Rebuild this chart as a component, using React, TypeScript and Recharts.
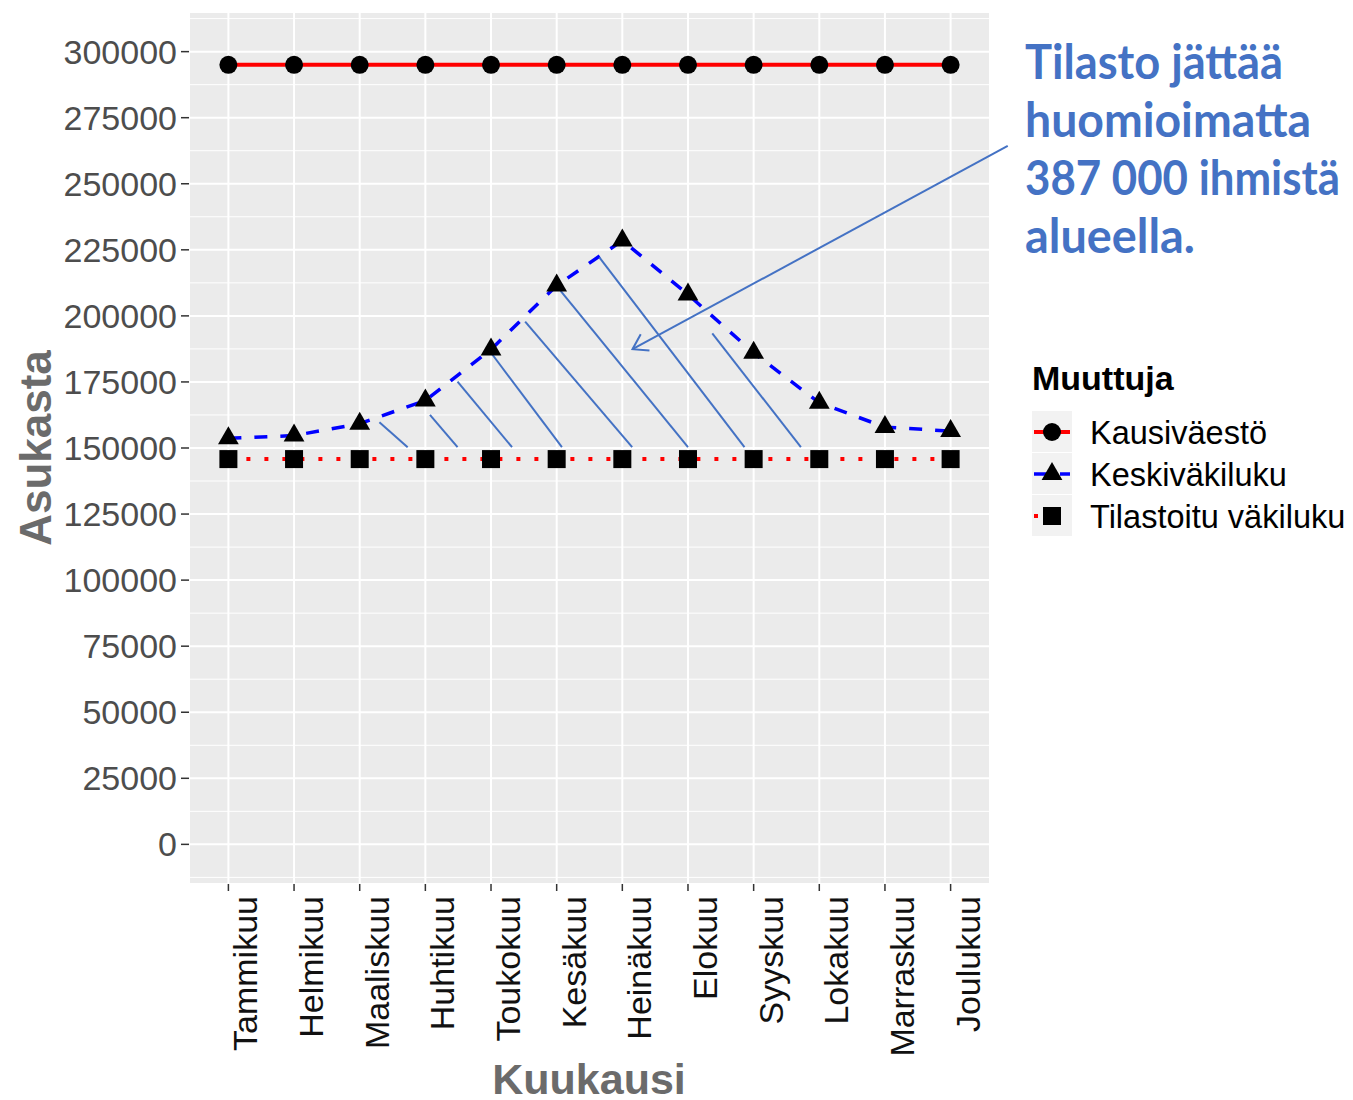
import { LineChart, Line, XAxis, YAxis, CartesianGrid, ReferenceLine, Legend } from 'recharts';

const months = ['Tammikuu', 'Helmikuu', 'Maaliskuu', 'Huhtikuu', 'Toukokuu', 'Kesäkuu', 'Heinäkuu', 'Elokuu', 'Syyskuu', 'Lokakuu', 'Marraskuu', 'Joulukuu'];
const kausivaesto = [295000, 295000, 295000, 295000, 295000, 295000, 295000, 295000, 295000, 295000, 295000, 295000];
const keskivakiluku = [153700, 154700, 159200, 168000, 187300, 211500, 228500, 208100, 186000, 167100, 157900, 156400];
const tilastoitu = [145800, 145800, 145800, 145800, 145800, 145800, 145800, 145800, 145800, 145800, 145800, 145800];

const yTicks = [0, 25000, 50000, 75000, 100000, 125000, 150000, 175000, 200000, 225000, 250000, 275000, 300000];
const yMinor = [-12500, 12500, 37500, 62500, 87500, 112500, 137500, 162500, 187500, 212500, 237500, 262500, 287500, 312500];
const xTicks = [0, 1, 2, 3, 4, 5, 6, 7, 8, 9, 10, 11];

// hand drawn hatching between the two lower series, in data units
const hatch = [
  [[2.30, 159700], [2.73, 150300]],
  [[3.07, 162500], [3.49, 150300]],
  [[3.49, 175100], [4.32, 150300]],
  [[3.98, 186700], [5.08, 150300]],
  [[4.52, 197800], [6.15, 150300]],
  [[5.06, 209500], [7.00, 150300]],
  [[5.65, 222100], [7.86, 150300]],
  [[7.37, 193400], [8.72, 150300]],
];
const arrow = [[11.87, 264300], [6.155, 187400]];

const noteLines = ['Tilasto jättää', 'huomioimatta', '387 000 ihmistä', 'alueella.'];
const noteWidths = [258, 286, 315, 170];

const data = months.map((m, i) => ({
  i,
  m,
  kausi: kausivaesto[i],
  keski: keskivakiluku[i],
  tilasto: tilastoitu[i],
}));

const FONT = '"Liberation Sans", Arial, sans-serif';
const NOTE_BLUE = '#4472C4';

const Circle = (p: any) => <circle key={p.key} cx={p.cx} cy={p.cy} r={9} fill="#000" />;
const Triangle = (p: any) => {
  const r = 12;
  const h = r * 0.866;
  return <path key={p.key} d={`M${p.cx},${p.cy - r}L${p.cx + h},${p.cy + r / 2}L${p.cx - h},${p.cy + r / 2}Z`} fill="#000" />;
};
const Square = (p: any) => <rect key={p.key} x={p.cx - 9} y={p.cy - 9} width={18} height={18} fill="#000" />;

const series = [
  { key: 'kausi', name: 'Kausiväestö', stroke: '#FF0000', dash: undefined, width: 4, dot: Circle },
  { key: 'keski', name: 'Keskiväkiluku', stroke: '#0000FF', dash: '13 13', width: 3.5, dot: Triangle },
  { key: 'tilasto', name: 'Tilastoitu väkiluku', stroke: '#FF0000', dash: '4 14', width: 4, dot: Square },
];

const XTick = ({ x, y, payload }: any) => (
  <text x={x} y={y} dy={29} transform={`rotate(-90 ${x} ${y})`} textAnchor="end" fontSize={34} fontFamily={FONT} fill="#111">
    {months[payload.value]}
  </text>
);

const ArrowShape = (p: any) => {
  const { x1, y1, x2, y2 } = p;
  const ang = Math.atan2(y1 - y2, x1 - x2);
  const L = 17;
  const a = 0.57;
  return (
    <g>
      <line x1={x1} y1={y1} x2={x2} y2={y2} stroke={NOTE_BLUE} strokeWidth={2} />
      <path
        d={`M${x2 + L * Math.cos(ang - a)},${y2 + L * Math.sin(ang - a)}L${x2},${y2}L${x2 + L * Math.cos(ang + a)},${y2 + L * Math.sin(ang + a)}`}
        stroke={NOTE_BLUE}
        strokeWidth={2}
        fill="none"
      />
    </g>
  );
};

const LegendBox = () => (
  <svg width={329} height={190} style={{ display: 'block', overflow: 'visible' }}>
    <text x={8} y={37} fontSize={34} fontWeight="bold" fontFamily={FONT} fill="#000">Muuttuja</text>
    {series.map((s, k) => {
      const top = 58 + k * 42;
      const cy = top + 21;
      const M = s.dot;
      return (
        <g key={s.key}>
          <rect x={8} y={top} width={40} height={41} fill="#F2F2F2" />
          <line x1={10} y1={cy} x2={46} y2={cy} stroke={s.stroke} strokeWidth={s.width} strokeDasharray={s.dash} />
          {M({ cx: 28, cy, key: 'm' })}
          <text x={66} y={cy} dy="0.36em" fontSize={32.5} fontFamily={FONT} fill="#000">{s.name}</text>
        </g>
      );
    })}
  </svg>
);

export default function App() {
  return (
    <div style={{ position: 'relative', width: 1345, height: 1092 }}>
      <LineChart width={1345} height={1092} data={data} margin={{ top: 4, right: 363, bottom: 0, left: 0 }}>
        <CartesianGrid fill="#EBEBEB" stroke="#FFFFFF" strokeWidth={1} vertical={false} horizontalValues={yMinor} />
        <CartesianGrid stroke="#FFFFFF" strokeWidth={2} />
        <XAxis
          type="number"
          dataKey="i"
          domain={[-0.6, 11.6]}
          ticks={xTicks}
          interval={0}
          allowDataOverflow
          height={216}
          axisLine={false}
          tickSize={7}
          tickMargin={5}
          tickLine={{ stroke: '#333', strokeWidth: 1.5 }}
          tick={<XTick />}
          label={{
            content: () => (
              <text x={581} y={1086} textAnchor="middle" fontSize={43} fontWeight="bold" fontFamily={FONT} fill="#6B6B6B">Kuukausi</text>
            ),
          }}
        />
        <YAxis
          type="number"
          domain={[-15000, 315000]}
          ticks={yTicks}
          interval={0}
          allowDataOverflow
          width={181}
          axisLine={false}
          tickSize={8}
          tickMargin={4}
          tickLine={{ stroke: '#333', strokeWidth: 1.5 }}
          tick={{ fontSize: 34, fontFamily: FONT, fill: '#4D4D4D' }}
          label={{
            content: () => (
              <text x={43} y={440} transform="rotate(-90 43 440)" textAnchor="middle" fontSize={44} fontWeight="bold" fontFamily={FONT} fill="#6B6B6B">Asukasta</text>
            ),
          }}
        />
        {series.map((s) => (
          <Line
            key={s.key}
            type="linear"
            dataKey={s.key}
            name={s.name}
            stroke={s.stroke}
            strokeWidth={s.width}
            strokeDasharray={s.dash}
            dot={s.dot}
            activeDot={false}
            isAnimationActive={false}
          />
        ))}
        {hatch.map((h, k) => (
          <ReferenceLine
            key={`h${k}`}
            segment={[{ x: h[0][0], y: h[0][1] }, { x: h[1][0], y: h[1][1] }]}
            stroke={NOTE_BLUE}
            strokeWidth={2}
            ifOverflow="visible"
          />
        ))}
        <ReferenceLine
          segment={[{ x: arrow[0][0], y: arrow[0][1] }, { x: arrow[1][0], y: arrow[1][1] }]}
          ifOverflow="visible"
          shape={ArrowShape}
        />
        <Legend
          layout="vertical"
          align="center"
          verticalAlign="middle"
          wrapperStyle={{ left: 1016, top: 345, width: 329 }}
          content={<LegendBox />}
        />
      </LineChart>
      <svg width={340} height={270} style={{ position: 'absolute', left: 1000, top: 0, pointerEvents: 'none', overflow: 'visible' }}>
        {noteLines.map((t, k) => (
          <text
            key={t}
            x={17}
            y={71 + k * 58}
            fontSize={47}
            fontWeight="bold"
            fontFamily="Lato, 'Open Sans', sans-serif"
            fill={NOTE_BLUE}
            textLength={noteWidths[k]}
            lengthAdjust="spacingAndGlyphs"
          >
            {t}
          </text>
        ))}
      </svg>
    </div>
  );
}
